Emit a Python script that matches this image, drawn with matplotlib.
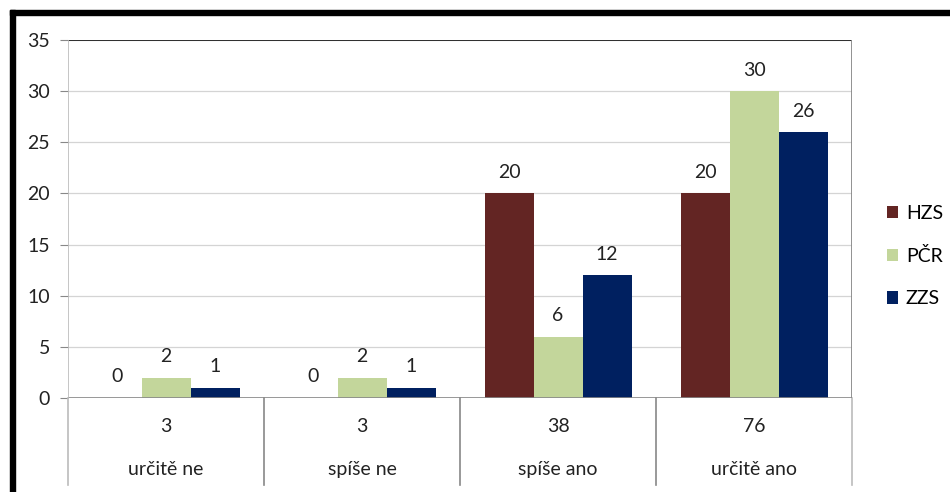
import matplotlib

matplotlib.use("Agg")
import matplotlib.pyplot as plt
from matplotlib.patches import Rectangle, Patch
from matplotlib.lines import Line2D
import numpy as np

plt.rcParams["font.family"] = ["Lato", "DejaVu Sans"]

# * data
categories = ["určitě ne", "spíše ne", "spíše ano", "určitě ano"]
totals = [3, 3, 38, 76]
series = ["HZS", "PČR", "ZZS"]
hzs = [0, 0, 20, 20]
pcr = [2, 2, 6, 30]
zzs = [1, 1, 12, 26]
colors = ["#632523", "#C3D69B", "#002060"]

fs = 14

fig = plt.figure(figsize=(9.5, 4.92), dpi=100)
ax = fig.add_axes([68 / 950, 1 - 398 / 492, (852 - 68) / 950, 358 / 492])

x = np.arange(len(categories))
width = 0.25
for i, (vals, col) in enumerate(zip([hzs, pcr, zzs], colors)):
    pos = x + (i - 1) * width
    ax.bar(pos, vals, width, color=col, zorder=3)
    for px, v in zip(pos, vals):
        ax.annotate(
            str(v),
            (px, v),
            xytext=(0, 9),
            textcoords="offset points",
            ha="center",
            va="bottom",
            fontsize=fs,
            color="#222222",
        )

ax.set_xlim(-0.5, 3.5)
ax.set_ylim(0, 35)
ax.set_yticks(np.arange(0, 36, 5))
ax.set_xticks([])
ax.tick_params(axis="y", labelsize=fs, length=6, color="#888888", pad=7, labelcolor="#222222")
ax.grid(axis="y", color="#d4d4d4", linewidth=0.9, zorder=0)

for s in ["top", "right", "bottom", "left"]:
    ax.spines[s].set_visible(False)

# * top line (35) and axes lines
ax.axhline(35, color="#111111", linewidth=1.2, zorder=2)
ax.axhline(0, color="#888888", linewidth=1.2, zorder=4)
ax.axvline(-0.5, ymin=0, ymax=1, color="#bbbbbb", linewidth=1.2, zorder=4)
ax.axvline(3.5, ymin=0, ymax=1, color="#888888", linewidth=2, zorder=4)

# * data table below the chart
trans = ax.get_xaxis_transform()
bottom = -0.243
for xb in np.arange(-0.5, 4.0, 1.0):
    col = "#888888" if xb not in (-0.5, 3.5) else "#bbbbbb"
    ax.add_line(
        Line2D([xb, xb], [0, bottom], transform=trans, color=col, linewidth=1.2, clip_on=False)
    )
for xi, t, c in zip(x, totals, categories):
    ax.text(xi, -0.081, str(t), transform=trans, ha="center", va="center", fontsize=fs, color="#222222")
    ax.text(xi, -0.201, c, transform=trans, ha="center", va="center", fontsize=fs, color="#222222")

# * legend
handles = [Patch(facecolor=c, edgecolor="none") for c in colors]
fig.legend(
    handles,
    series,
    loc="center left",
    bbox_to_anchor=(869 / 950, 1 - 256 / 492),
    frameon=False,
    fontsize=fs,
    handlelength=0.6,
    handleheight=0.6,
    handletextpad=0.4,
    labelspacing=1.3,
)

# * black frame (top and left)
fig.patches.append(
    Rectangle((10 / 950, 1 - 15 / 492), 940 / 950, 5 / 492, transform=fig.transFigure, color="black", zorder=10)
)
fig.patches.append(
    Rectangle((10 / 950, 0), 5 / 950, 1 - 10 / 492, transform=fig.transFigure, color="black", zorder=10)
)

plt.savefig("out.png", dpi=100)
plt.close()
